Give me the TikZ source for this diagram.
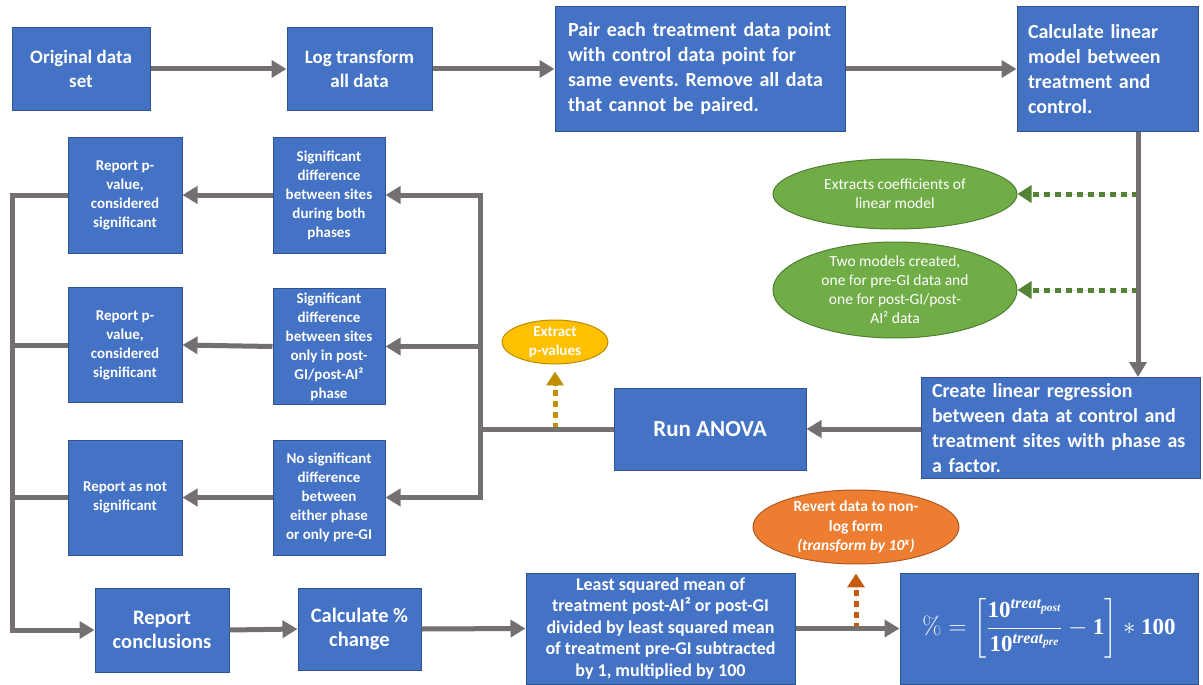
\documentclass[tikz,border=0pt]{standalone}
\usepackage{amsmath}
\usepackage[no-math]{fontspec}
\setmainfont{Carlito}
\newfontfamily\formfont{Liberation Serif}
\newcommand{\bn}[1]{\text{\formfont\bfseries #1}}
\newcommand{\bi}[1]{\text{\formfont\bfseries\itshape #1}}
\usetikzlibrary{arrows.meta,shapes.geometric,calc}
\definecolor{boxblue}{HTML}{4472C4}
\definecolor{boxline}{HTML}{2F528F}
\definecolor{arrgray}{HTML}{747070}
\definecolor{gfill}{HTML}{70AD47}
\definecolor{gline}{HTML}{507E32}
\definecolor{garr}{HTML}{548235}
\definecolor{yfill}{HTML}{FFC000}
\definecolor{yline}{HTML}{BC8C00}
\definecolor{yarr}{HTML}{BF9000}
\definecolor{ofill}{HTML}{ED7D31}
\definecolor{oline}{HTML}{AE5A21}
\definecolor{oarr}{HTML}{C55A11}
\newcommand{\fs}[2]{\fontsize{#1}{#2}\selectfont}
\frenchspacing
\begin{document}
\begin{tikzpicture}[x=1pt,y=-1pt,
  box/.style={draw=boxline, line width=1pt, fill=boxblue, text=white, inner sep=0pt, align=center},
  oval/.style={shape=ellipse, line width=1pt, text=white, inner sep=0pt, align=center},
  conn/.style={draw=arrgray, line width=5pt, -{Triangle[width=17pt,length=15pt]}},
  plainline/.style={draw=arrgray, line width=5pt},
  dotarrow/.style={line width=5pt, dash pattern=on 6pt off 5pt, -{Triangle[width=17pt,length=14pt]}}
]
\useasboundingbox (0,0) rectangle (1203,685);

% top row
\node[box, minimum width=138pt, minimum height=82pt, font=\bfseries\fs{19}{24}] (n1) at (81,69) {Original data\\set};
\node[box, minimum width=145pt, minimum height=82pt, font=\bfseries\fs{19}{24}] (n2) at (359.5,69) {Log transform\\all data};
\node[box, minimum width=290pt, minimum height=124pt, text width=264pt, align=left, font=\bfseries\fs{20}{25}] (n3) at (700,69) {Pair each treatment data point\\with control data point for\\same events. Remove all data\\that cannot be paired.};
\node[box, minimum width=181pt, minimum height=124pt, text width=159pt, align=left, font=\bfseries\fs{20}{25}] (n4) at (1107.5,69) {Calculate linear\\model between\\treatment and\\control.};

% right side
\node[box, minimum width=279pt, minimum height=101pt, text width=257pt, align=left, font=\bfseries\fs{20}{25}] (n8) at (1060.5,428) {Create linear regression\\between data at control and\\treatment sites with phase as\\a factor.};
\node[box, minimum width=192pt, minimum height=82pt, font=\bfseries\fs{23}{27}] (n9) at (710,429) {Run ANOVA};

\node[oval, draw=gline, fill=gfill, minimum width=244pt, minimum height=70pt, font=\fs{15.5}{19}] (ge1) at (895,194) {Extracts coefficients of\\linear model};
\node[oval, draw=gline, fill=gfill, minimum width=244pt, minimum height=90pt, font=\fs{15.5}{19}] (ge2) at (895,290) {Two models created,\\one for pre-GI data and\\one for post-GI/post-\\AI² data};
\node[oval, draw=yline, fill=yfill, minimum width=106pt, minimum height=42pt, font=\bfseries\fs{15}{19}] (ye) at (555,342) {Extract\\p-values};

% middle columns
\node[box, minimum width=112pt, minimum height=116pt, font=\bfseries\fs{15}{19}] (c2a) at (329,195) {Significant\\difference\\between sites\\during both\\phases};
\node[box, minimum width=112pt, minimum height=116pt, font=\bfseries\fs{15}{19}] (c2b) at (329,346.5) {Significant\\difference\\between sites\\only in post-\\GI/post-AI²\\phase};
\node[box, minimum width=112pt, minimum height=115pt, font=\bfseries\fs{15}{19}] (c2c) at (329,497.5) {No significant\\difference\\between\\either phase\\or only pre-GI};

\node[box, minimum width=114pt, minimum height=116pt, font=\bfseries\fs{15}{19}] (c1a) at (125,195) {Report p-\\value,\\considered\\significant};
\node[box, minimum width=114pt, minimum height=115pt, font=\bfseries\fs{15}{19}] (c1b) at (125,345) {Report p-\\value,\\considered\\significant};
\node[box, minimum width=114pt, minimum height=115pt, font=\bfseries\fs{15}{19}] (c1c) at (125,497.5) {Report as not\\significant};

% bottom row
\node[box, minimum width=134pt, minimum height=84pt, font=\bfseries\fs{20.5}{24}] (rc) at (162,630) {Report\\conclusions};
\node[box, minimum width=123pt, minimum height=82pt, font=\bfseries\fs{20.5}{24}] (cc) at (359.5,629) {Calculate \%\\change};
\node[box, minimum width=269pt, minimum height=111pt, font=\bfseries\fs{18}{21.5}] (ls) at (660.5,628.5) {Least squared mean of\\treatment post-AI² or post-GI\\divided by least squared mean\\of treatment pre-GI subtracted\\by 1, multiplied by 100};
\node[box, minimum width=298pt, minimum height=111pt, font=\fs{23}{27}] (fb) at (1049,628.5) {$\displaystyle \% = \left[\frac{\bn{10}^{\bi{treat}_{\bi{post}}}}{\bn{10}^{\bi{treat}_{\bi{pre}}}} - \bn{1}\right] * \bn{100}$};
\node[oval, draw=oline, fill=ofill, minimum width=206pt, minimum height=70pt, font=\bfseries\fs{15.5}{19.5}] (oe) at (856,527) {Revert data to non-\\log form\\\textit{(transform by 10\textsuperscript{x})}};

% coordinates
\coordinate (vx) at (1138,0);
\coordinate (jx) at (480,429);
\coordinate (lb) at (12,630);

% dotted arrows
\draw[dotarrow, draw=garr, fill=garr] (vx |- ge1.east) -- (ge1.east);
\draw[dotarrow, draw=garr, fill=garr] (vx |- ge2.east) -- (ge2.east);
\draw[dotarrow, draw=yarr, fill=yarr, shorten >=7pt] (jx -| ye.south) -- (ye.south);
\draw[dotarrow, draw=oarr, fill=oarr, shorten >=9pt] (ls.east -| oe.south) -- (oe.south);

% gray connectors
\draw[conn] (n1.east) -- (n2.west);
\draw[conn] (n2.east) -- (n3.west);
\draw[conn] (n3.east) -- (n4.west);
\draw[conn] (n4.south -| vx) -- (n8.north -| vx);
\draw[conn] (n8.west |- n9.east) -- (n9.east);
\draw[plainline] (n9.west) -- (jx);
\draw[conn] (jx) |- (c2a.east);
\draw[conn] (jx) |- (c2b.east);
\draw[conn] (jx) |- (c2c.east);
\draw[conn] (c2a.west) -- (c1a.east);
\draw[conn] (c2b.west) -- (c1b.east);
\draw[conn] (c2c.west) -- (c1c.east);
\draw[conn] (c1a.west) -| (lb) -- (rc.west);
\draw[plainline] (c1b.west) -- (c1b.west -| lb);
\draw[plainline] (c1c.west) -- (c1c.west -| lb);
\draw[conn] (rc.east) -- (cc.west);
\draw[conn] (cc.east) -- (ls.west);
\draw[conn] (ls.east) -- (fb.west);
\end{tikzpicture}
\end{document}
